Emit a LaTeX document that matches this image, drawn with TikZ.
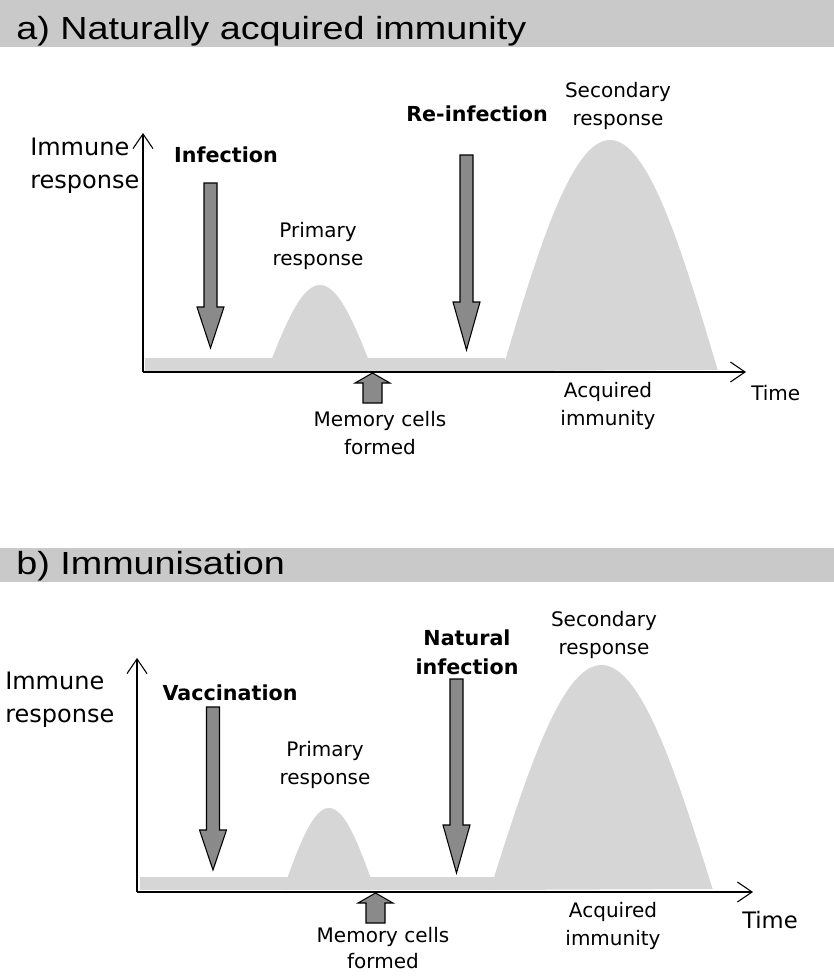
\documentclass[tikz,border=0pt]{standalone}
\usepackage{fontspec}
\setmainfont{DejaVu Sans}
\newfontfamily\titlefont{Liberation Sans}
\usetikzlibrary{arrows.meta}
\definecolor{bandgray}{HTML}{C9C9C9}
\definecolor{humpgray}{HTML}{D6D6D6}
\definecolor{arrgray}{HTML}{8A8A8A}
\newcommand\DownArr[4]{%
  \draw[bigarr] ({#1-6.5},#2) -- ({#1+6.5},#2) -- ({#1+6.5},#3) -- ({#1+13.5},#3)
    -- (#1,#4) -- ({#1-13.5},#3) -- ({#1-6.5},#3) -- cycle;}
\newcommand\UpArr[4]{%
  \draw[bigarr] ({#1-9.5},#4) -- ({#1+9.5},#4) -- ({#1+9.5},#3) -- ({#1+17.5},#3)
    -- (#1,#2) -- ({#1-17.5},#3) -- ({#1-9.5},#3) -- cycle;}
\begin{document}
\begin{tikzpicture}[x=0.75pt,y=-0.75pt,
  band/.style={fill=bandgray, draw=none},
  hump/.style={fill=humpgray, draw=none},
  bigarr/.style={fill=arrgray, draw=black, line width=0.8pt, line join=miter},
  axis/.style={draw=black, line width=1.1pt, -{Straight Barb[length=11pt,width=15pt,line width=0.8pt]}},
  lbl/.style={inner sep=0pt, align=center, font=\fontsize{15}{21}\selectfont},
  blbl/.style={inner sep=0pt, align=center, font=\bfseries\fontsize{15.5}{22}\selectfont},
  ylbl/.style={inner sep=0pt, align=left, anchor=west, font=\fontsize{18}{25}\selectfont},
  ttl/.style={inner sep=0pt, anchor=base west, xscale=1.18, font=\titlefont\fontsize{24}{28}\selectfont}
]
\path[use as bounding box] (0,0) rectangle (834,976);

% ---------- panel a ----------
\fill[band] (0,0) rectangle (834,47);
\node[ttl] (ta) at (16,39) {a) Naturally acquired immunity};

\fill[hump] (145,358) rectangle (505,371);
\fill[hump] plot[domain=0:1, samples=80] ({267+106*\x},{371-86*sin(180*\x)}) -- cycle;
\fill[hump] plot[domain=0:1, samples=100] ({502+216*\x},{371-231*sin(180*\x)}) -- cycle;

\coordinate (oa) at (143,372);
\coordinate (ya) at (143,133);
\coordinate (xa) at (746,372);
\draw[axis] (oa) -- (ya);
\draw[axis] (oa) -- (xa);

\DownArr{210.5}{183}{307}{348}
\DownArr{466.5}{155}{302}{350}
\UpArr{372.5}{373}{383}{403}

\node[ylbl] (ira) at (30,166) {Immune\\response};
\node[blbl] (infa) at (226,155) {Infection};
\node[blbl, anchor=east] (reinf) at (548,114) {Re-infection};
\node[lbl] (pra) at (318,246) {Primary\\response};
\node[lbl] (sra) at (618,106) {Secondary\\response};
\node[lbl] (aia) at (608,406) {Acquired\\immunity};
\node[lbl] (mca) at (380,433) {Memory cells\\formed};
\node[lbl, anchor=west] (tia) at (751,393) {Time};

% ---------- panel b ----------
\fill[band] (0,548) rectangle (834,582);
\node[ttl] (tb) at (16,574) {b) Immunisation};

\fill[hump] (140,877) rectangle (495,890);
\fill[hump] plot[domain=0:1, samples=80] ({283+92*\x},{890-82*sin(180*\x)}) -- cycle;
\fill[hump] plot[domain=0:1, samples=100] ({490+223*\x},{890-225*sin(180*\x)}) -- cycle;

\coordinate (ob) at (137,892);
\coordinate (yb) at (137,658);
\coordinate (xb) at (753,892);
\draw[axis] (ob) -- (yb);
\draw[axis] (ob) -- (xb);

\DownArr{213}{707}{830}{870}
\DownArr{456.5}{679}{825}{873}
\UpArr{375.5}{893}{903}{923}

\node[ylbl] (irb) at (5,700) {Immune\\response};
\node[blbl] (vac) at (230,693) {Vaccination};
\node[blbl] (nat) at (467,652) {Natural\\infection};
\node[lbl] (prb) at (325,765) {Primary\\response};
\node[lbl] (srb) at (604,635) {Secondary\\response};
\node[lbl] (aib) at (613,926) {Acquired\\immunity};
\node[lbl, font=\fontsize{15}{20}\selectfont] (mcb) at (383,948) {Memory cells\\formed};
\node[lbl, anchor=west, font=\fontsize{17}{21}\selectfont] (tib) at (742,920) {Time};
\end{tikzpicture}
\end{document}
